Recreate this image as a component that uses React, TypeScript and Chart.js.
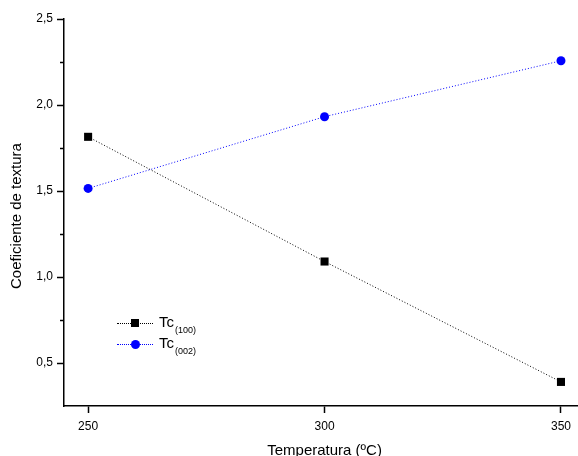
import React, { useEffect, useRef } from "react";
import { Chart, registerables } from "chart.js";

Chart.register(...registerables);

const temperatures = [250, 300, 350];
const tc100 = [1.815, 1.09, 0.39];
const tc002 = [1.515, 1.932, 2.257];
const xTicks = [250, 300, 350];
const yTicks = [0.5, 1.0, 1.5, 2.0, 2.5];
const yMinorTicks = [0.75, 1.25, 1.75, 2.25];
const yTitle = "Coeficiente de textura";
const xTitle = "Temperatura (ºC)";
const FONT = "'Liberation Sans', Arial, sans-serif";

const extrasPlugin = {
  id: "extras",
  afterDraw(chart: any) {
    const ctx = chart.ctx;
    const y = chart.scales.y;
    const x = chart.scales.x;
    const area = chart.chartArea;
    ctx.save();
    ctx.strokeStyle = "#000";
    ctx.lineWidth = 1.5;
    yMinorTicks.forEach((v) => {
      const py = Math.round(y.getPixelForValue(v)) + 0.5;
      ctx.beginPath();
      ctx.moveTo(area.left - 4, py);
      ctx.lineTo(area.left, py);
      ctx.stroke();
    });
    ctx.fillStyle = "#000";
    ctx.font = `15px ${FONT}`;
    ctx.textAlign = "center";
    ctx.textBaseline = "alphabetic";
    ctx.fillText(xTitle, x.getPixelForValue(300), 455);
    ctx.textBaseline = "middle";
    ctx.translate(17, 216);
    ctx.rotate(-Math.PI / 2);
    ctx.fillText(yTitle, 0, 0);
    ctx.restore();
  },
};

export default function App() {
  const ref = useRef<HTMLCanvasElement>(null);
  useEffect(() => {
    if (!ref.current) return;
    const chart = new Chart(ref.current, {
      type: "line",
      data: {
        datasets: [
          {
            label: "Tc(100)",
            data: temperatures.map((t, i) => ({ x: t, y: tc100[i] })),
            borderColor: "#000",
            backgroundColor: "#000",
            borderWidth: 1,
            borderDash: [1, 2],
            pointStyle: "rect",
            pointRadius: 5.7,
            pointBorderWidth: 0,
            fill: false,
          },
          {
            label: "Tc(002)",
            data: temperatures.map((t, i) => ({ x: t, y: tc002[i] })),
            borderColor: "#0000ff",
            backgroundColor: "#0000ff",
            borderWidth: 1,
            borderDash: [1, 2],
            pointStyle: "circle",
            pointRadius: 4.5,
            pointBorderWidth: 0,
            fill: false,
          },
        ],
      },
      options: {
        animation: false,
        responsive: false,
        maintainAspectRatio: false,
        layout: { autoPadding: false, padding: { top: 19, left: 0, right: 0, bottom: 0 } },
        plugins: { legend: { display: false }, tooltip: { enabled: false } },
        scales: {
          x: {
            type: "linear",
            min: 244.9,
            max: 353.6,
            afterBuildTicks: (s: any) => {
              s.ticks = xTicks.map((v) => ({ value: v }));
            },
            afterFit: (s: any) => {
              s.height = 50;
              s.paddingLeft = 0;
              s.paddingRight = 0;
            },
            ticks: {
              color: "#000",
              font: { family: FONT, size: 12 },
              padding: 6,
              maxRotation: 0,
              callback: (v: any) => String(v),
            },
            grid: {
              drawOnChartArea: false,
              drawTicks: true,
              tickLength: 7,
              tickColor: "#000",
              tickWidth: 1.5,
            },
            border: { display: true, color: "#000", width: 1.5 },
          },
          y: {
            type: "linear",
            min: 0.25,
            max: 2.5,
            afterBuildTicks: (s: any) => {
              s.ticks = yTicks.map((v) => ({ value: v }));
            },
            afterFit: (s: any) => {
              s.width = 64;
              s.paddingTop = 0;
              s.paddingBottom = 0;
            },
            ticks: {
              color: "#000",
              font: { family: FONT, size: 12 },
              padding: 4,
              callback: (v: any) => Number(v).toFixed(1).replace(".", ","),
            },
            grid: {
              drawOnChartArea: false,
              drawTicks: true,
              tickLength: 7,
              tickColor: "#000",
              tickWidth: 1.5,
            },
            border: { display: true, color: "#000", width: 1.5 },
          },
        },
      },
      plugins: [extrasPlugin],
    } as any);
    return () => chart.destroy();
  }, []);

  const legendItem = (top: number, color: string, square: boolean, sub: string) => (
    <div style={{ position: "absolute", left: 0, top: 0 }}>
      <div
        style={{
          position: "absolute",
          left: 117,
          top: top,
          width: 36,
          height: 0,
          borderTop: `1px dotted ${color}`,
        }}
      />
      <div
        style={{
          position: "absolute",
          left: square ? 131 : 130.5,
          top: square ? top - 4 : top - 4.5,
          width: square ? 8 : 9,
          height: square ? 8 : 9,
          background: color,
          borderRadius: square ? 0 : "50%",
        }}
      />
      <div
        style={{
          position: "absolute",
          left: 159,
          top: top - 9,
          fontFamily: FONT,
          fontSize: 15,
          lineHeight: "16px",
          color: "#000",
          whiteSpace: "nowrap",
        }}
      >
        Tc
        <span style={{ fontSize: 9, position: "relative", top: 6, marginLeft: 1 }}>{sub}</span>
      </div>
    </div>
  );

  return (
    <div style={{ position: "absolute", left: 0, top: 0, width: 578, height: 456, background: "#fff", overflow: "hidden" }}>
      <canvas ref={ref} width={578} height={456} style={{ display: "block" }} />
      {legendItem(323, "#000", true, "(100)")}
      {legendItem(344, "#0000ff", false, "(002)")}
    </div>
  );
}
